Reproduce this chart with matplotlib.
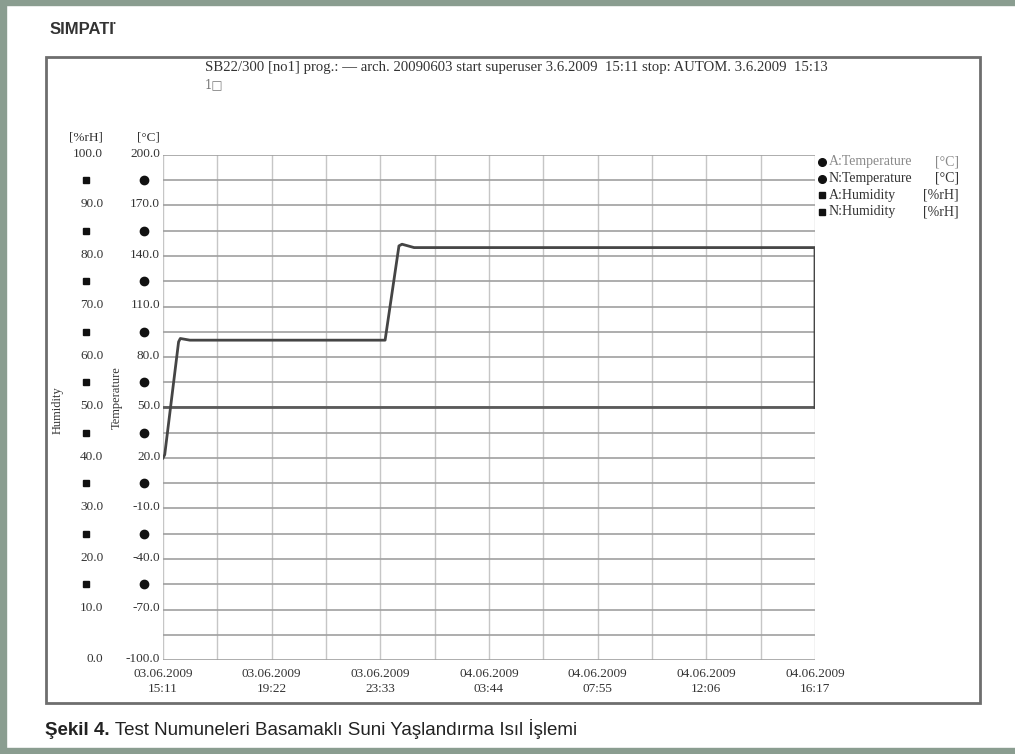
import matplotlib
matplotlib.use("Agg")
import matplotlib.pyplot as plt
from matplotlib.patches import Rectangle
from matplotlib.lines import Line2D
import matplotlib.transforms as mtransforms

# ---- data -------------------------------------------------------------
# elapsed minutes since 03.06.2009 15:11
temp_minutes = [0, 4, 36, 40, 62, 250, 500, 513, 545, 552, 580, 900, 1200, 1506, 1506]
temp_values = [20, 22, 89, 91, 90, 90, 90, 90, 146, 147, 145, 145, 145, 145, 50]

hum_minutes = [0, 1506]
hum_values = [50, 50]

tick_minutes = [0, 251, 502, 753, 1004, 1255, 1506]
tick_labels = ["03.06.2009\n15:11", "03.06.2009\n19:22", "03.06.2009\n23:33",
               "04.06.2009\n03:44", "04.06.2009\n07:55", "04.06.2009\n12:06",
               "04.06.2009\n16:17"]

temp_ticks = [-100, -70, -40, -10, 20, 50, 80, 110, 140, 170, 200]
hum_ticks = [0, 10, 20, 30, 40, 50, 60, 70, 80, 90, 100]
marker_levels = [185, 155, 125, 95, 65, 35, 5, -25, -55]

legend_names = ["A:Temperature", "N:Temperature", "A:Humidity", "N:Humidity"]
legend_units = ["[°C]", "[°C]", "[%rH]", "[%rH]"]
legend_markers = ["o", "o", "s", "s"]

header = ("SB22/300 [no1] prog.: \u2014 arch. 20090603 start superuser 3.6.2009  15:11 "
          "stop: AUTOM. 3.6.2009  15:13")
caption_bold = "Şekil 4."
caption_rest = " Test Numuneleri Basamaklı Suni Yaşlandırma Isıl İşlemi"

# ---- figure -----------------------------------------------------------
W, H = 1015, 754
fig = plt.figure(figsize=(W / 100, H / 100), dpi=100)
fig.patch.set_facecolor("white")

def fx(px):
    return px / W

def fy(py):
    return 1 - py / H

serif = ["Liberation Serif", "DejaVu Serif"]
sans = ["Liberation Sans", "DejaVu Sans"]
txt = "#333333"
fs_tick = 9.5

# page border bands
band = "#8a9d90"
fig.patches.append(Rectangle((0, 0), fx(6), 1, transform=fig.transFigure,
                             color=band, zorder=0))
fig.patches.append(Rectangle((0, fy(5)), 1, 5 / H, transform=fig.transFigure,
                             color=band, zorder=0))
fig.patches.append(Rectangle((0, 0), 1, 6 / H, transform=fig.transFigure,
                             color=band, zorder=0))

# chart frame
fig.patches.append(Rectangle((fx(46), fy(703)), fx(934), (703 - 57) / H,
                             transform=fig.transFigure, fill=False,
                             edgecolor="#6e6e6e", linewidth=2, zorder=1))

# logo
fig.text(fx(50), fy(30), "SIMPATI", family=sans, weight="bold", fontsize=12,
         color="#333333", va="center", ha="left")
fig.text(fx(113), fy(24), "•", family=sans, fontsize=6, color="#333333",
         va="center", ha="left")

# header lines
fig.text(fx(205), fy(68), header, family=serif, fontsize=10.6, color=txt,
         va="center", ha="left")
fig.text(fx(205), fy(85), "1\u25a1", family=["DejaVu Serif"], fontsize=8.5,
         color="#777777", va="center", ha="left")

# caption
t1 = fig.text(fx(45), fy(735), caption_bold, family=sans, weight="bold",
              fontsize=13.5, color="#222222", va="baseline", ha="left")
fig.canvas.draw()
bb = t1.get_window_extent()
fig.text(bb.x1 / W, fy(735), caption_rest, family=sans, fontsize=13.5,
         color="#222222", va="baseline", ha="left")

# ---- plot area --------------------------------------------------------
ax = fig.add_axes([fx(163), fy(660), fx(652), (660 - 155) / H])
ax.set_xlim(0, 1506)
ax.set_ylim(-100, 200)

# grid: vertical lines every half tick interval, horizontal every 15 °C
step = (tick_minutes[1] - tick_minutes[0]) / 2
for i in range(13):
    ax.axvline(i * step, color="#c6c6c6", linewidth=1.0, zorder=1)
for h in range(-100, 201, 15):
    ax.axhline(h, color="#a0a0a0", linewidth=1.2, zorder=1)

for s in ax.spines.values():
    s.set_visible(False)

ax.plot(hum_minutes, hum_values, color="#5a5a5a", linewidth=2.0, zorder=3)
ax.plot(temp_minutes, temp_values, color="#454545", linewidth=2.0, zorder=4,
        solid_joinstyle="round")

ax.set_xticks(tick_minutes)
ax.set_xticklabels(tick_labels, family=serif, fontsize=fs_tick, color=txt,
                   linespacing=1.25)
ax.set_yticks(temp_ticks)
ax.set_yticklabels([f"{v:.1f}" for v in temp_ticks], family=serif,
                   fontsize=fs_tick, color=txt)
ax.tick_params(axis="both", length=0)
ax.tick_params(axis="y", pad=2)
ax.tick_params(axis="x", pad=6)

# lift the y labels a touch so the lowest one clears the date labels
lift = mtransforms.ScaledTranslation(0, 2 / 72, fig.dpi_scale_trans)
for lab in ax.get_yticklabels():
    lab.set_transform(lab.get_transform() + lift)

# humidity scale on the far left
ax2 = ax.twinx()
ax2.set_ylim(0, 100)
for s in ax2.spines.values():
    s.set_visible(False)
ax2.yaxis.tick_left()
ax2.set_yticks(hum_ticks)
ax2.set_yticklabels([f"{v:.1f}" for v in hum_ticks], family=serif,
                    fontsize=fs_tick, color=txt)
ax2.tick_params(axis="y", length=0, pad=43)
for lab in ax2.get_yticklabels():
    lab.set_transform(lab.get_transform() + lift)

# scale markers between ticks
blend = mtransforms.blended_transform_factory(ax.transAxes, ax.transData)
ax.plot([-19 / 652] * len(marker_levels), marker_levels, "o", color="#111111",
        markersize=6, transform=blend, clip_on=False, zorder=5)
ax.plot([-77 / 652] * len(marker_levels), marker_levels, "s", color="#111111",
        markersize=5, transform=blend, clip_on=False, zorder=5)

# unit headers and axis titles
fig.text(fx(103), fy(138), "[%rH]", family=serif, fontsize=fs_tick, color=txt,
         ha="right", va="center")
fig.text(fx(160), fy(138), "[°C]", family=serif, fontsize=fs_tick, color=txt,
         ha="right", va="center")
fig.text(fx(58), fy(410), "Humidity", family=serif, fontsize=9, color=txt,
         rotation=90, ha="center", va="center")
fig.text(fx(117), fy(398), "Temperature", family=serif, fontsize=9, color=txt,
         rotation=90, ha="center", va="center")

# legend
for i, (name, unit, mk) in enumerate(zip(legend_names, legend_units, legend_markers)):
    y = fy(162 + i * 16.5)
    col = "#8a8a8a" if i == 0 else txt
    fig.add_artist(Line2D([fx(822)], [y], marker=mk, color="#111111",
                          markersize=5.5 if mk == "o" else 5,
                          transform=fig.transFigure))
    fig.text(fx(829), y, name, family=serif, fontsize=10, color=col,
             ha="left", va="center")
    fig.text(fx(959), y, unit, family=serif, fontsize=10, color=col,
             ha="right", va="center")

fig.savefig("out.png", dpi=100)
